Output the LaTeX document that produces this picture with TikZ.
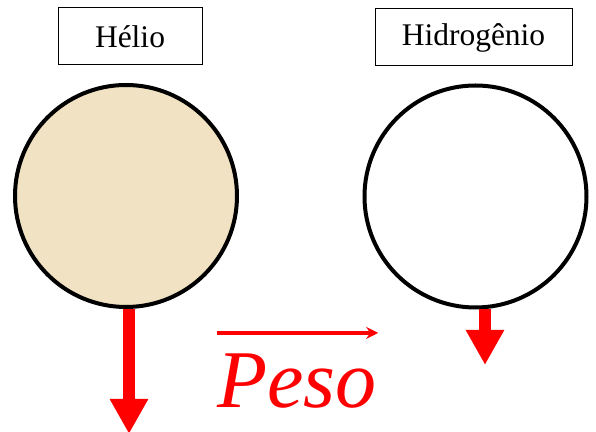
\documentclass[tikz,border=0pt]{standalone}
\usepackage{fontspec}
\setmainfont{Liberation Serif}
\usetikzlibrary{arrows.meta}
\definecolor{hefill}{RGB}{240,226,194}
\begin{document}
\begin{tikzpicture}[
            x=0.5pt, y=-0.5pt,
            label_box/.style={draw=black, line width=0.5pt, minimum height=28.5pt, inner sep=0pt, font=\fontsize{15.75}{18}\selectfont},
            gas_ball/.style={circle, draw=black, line width=2pt, minimum size=111pt, inner sep=0pt},
            weight_arrow/.style={red, line width=6pt, -{Triangle[width=18pt, length=17.5pt]}},
            vec_arrow/.style={red, line width=1.75pt, -{Stealth[width=6pt, length=6pt]}}
        ]
        \useasboundingbox (0,0) rectangle (596,432);

        % Labels
        \node[label_box, minimum width=72pt] (helio_lbl) at (130,36.5) {Hélio};
        \node[label_box, minimum width=98.5pt] (hidro_lbl) at (473.5,37.5) {Hidrogênio};

        % Balloons
        \node[gas_ball, fill=hefill] (helio) at (126,196) {};
        \node[gas_ball] (hidro) at (475.5,196.5) {};

        % Weights
        \coordinate (he_tip) at (129,434);
        \coordinate (h_tip) at (485,365);
        \draw[weight_arrow] (helio.south -| he_tip) -- (he_tip);
        \draw[weight_arrow] (hidro.south -| h_tip) -- (h_tip);

        % Vector name
        \node[red, anchor=base west, inner sep=0pt, font=\fontsize{41}{48}\selectfont\itshape] (peso) at (217,408) {Peso};
        \draw[vec_arrow] ([yshift=10.5pt]peso.north west) -- ([yshift=10.5pt, xshift=0.5pt]peso.north east);

    \end{tikzpicture}
\end{document}
